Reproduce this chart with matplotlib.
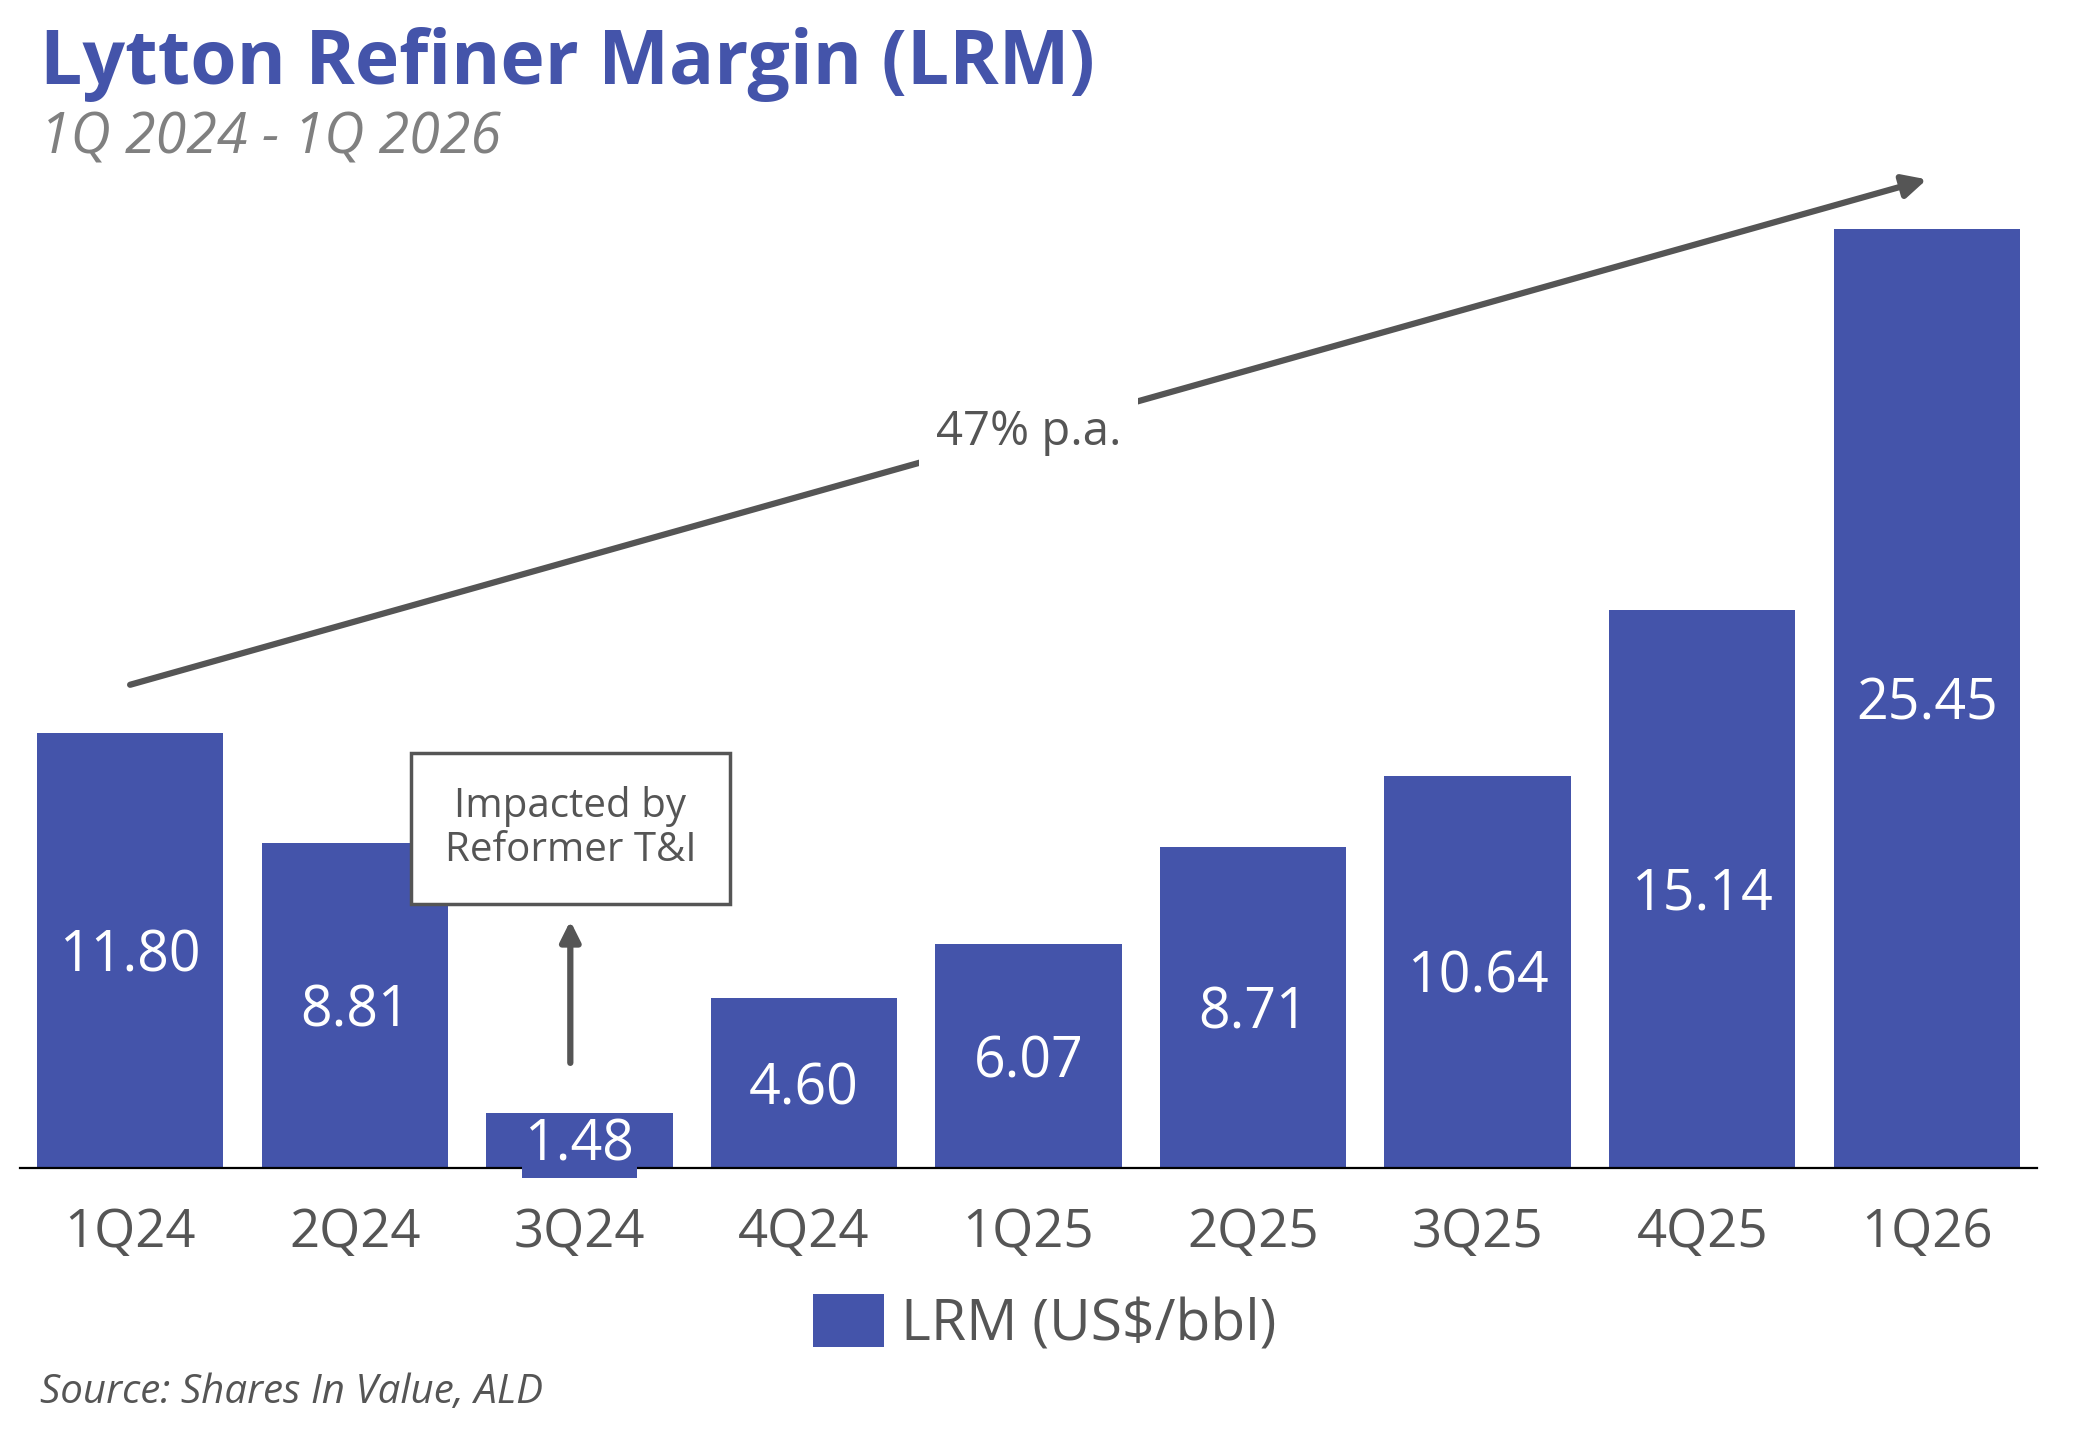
import matplotlib.pyplot as plt
from matplotlib.patches import Patch

quarters = ["1Q24", "2Q24", "3Q24", "4Q24", "1Q25", "2Q25", "3Q25", "4Q25", "1Q26"]
lrm = [11.80, 8.81, 1.48, 4.60, 6.07, 8.71, 10.64, 15.14, 25.45]
value_labels = ["11.80", "8.81", "1.48", "4.60", "6.07", "8.71", "10.64", "15.14", "25.45"]

# trend line (47% p.a.) start / end in data units
trend_x = [0.0, 8.0]
trend_y = [13.1, 26.8]

BLUE = "#4454AA"
GREY = "#555555"
FONT = "Open Sans"

plt.rcParams['font.family'] = [FONT, 'DejaVu Sans']

fig = plt.figure(figsize=(20.9, 14.3), dpi=100)
ax = fig.add_axes([0.0096, 0.1832, 0.965, 0.712])

x = list(range(len(quarters)))
ax.bar(x, lrm, width=0.83, color=BLUE, zorder=2)

# value labels sit in the middle of each bar
for i, (v, lab) in enumerate(zip(lrm, value_labels)):
    if v < 3:
        ax.text(i, v / 2 - 0.15, lab, ha='center', va='center', color='white', fontsize=40,
                zorder=4, bbox=dict(facecolor=BLUE, edgecolor='none', pad=2))
    else:
        ax.text(i, v / 2 - 0.18, lab, ha='center', va='center', color='white', fontsize=40,
                zorder=4)

ax.set_xlim(-0.49, 8.49)
ax.set_ylim(0, 27.6)
ax.set_xticks(x)
ax.set_xticklabels(quarters, fontsize=38, color=GREY)
ax.tick_params(axis='x', length=0, pad=28)
ax.set_yticks([])
for s in ['top', 'right', 'left']:
    ax.spines[s].set_visible(False)
ax.spines['bottom'].set_linewidth(1.6)
ax.spines['bottom'].set_color('black')
ax.spines['bottom'].set_zorder(3)

# trend arrow
ax.annotate("", xy=(trend_x[1], trend_y[1]), xytext=(trend_x[0], trend_y[0]),
            arrowprops=dict(arrowstyle='-|>', color=GREY, lw=4.5, mutation_scale=35,
                            shrinkA=0, shrinkB=0), zorder=3)
mid_x = (trend_x[0] + trend_x[1]) / 2
mid_y = (trend_y[0] + trend_y[1]) / 2
ax.text(mid_x, mid_y, "47% p.a.", ha='center', va='center', fontsize=34, color=GREY,
        zorder=4, bbox=dict(facecolor='white', edgecolor='none', pad=12))

# 3Q24 note
ax.text(1.96, 9.2, "Impacted by\nReformer T&I", ha='center', va='center', fontsize=29,
        color=GREY, linespacing=1.1, zorder=5,
        bbox=dict(facecolor='white', edgecolor=GREY, linewidth=2.5, pad=24))
ax.annotate("", xy=(1.96, 6.7), xytext=(1.96, 2.85),
            arrowprops=dict(arrowstyle='-|>', color=GREY, lw=4.5, mutation_scale=30,
                            shrinkA=0, shrinkB=0), zorder=3)

fig.text(0.019, 0.955, "Lytton Refiner Margin (LRM)", fontsize=54, fontweight='bold',
         color=BLUE, ha='left', va='center')
fig.text(0.019, 0.903, "1Q 2024 - 1Q 2026", fontsize=40, style='italic',
         color='#808080', ha='left', va='center')
fig.text(0.019, 0.026, "Source: Shares In Value, ALD", fontsize=29, style='italic',
         color=GREY, ha='left', va='center')

fig.legend(handles=[Patch(facecolor=BLUE, label="LRM (US$/bbl)")], loc='center',
           bbox_to_anchor=(0.5, 0.074), frameon=False, fontsize=41, labelcolor=GREY,
           handlelength=1.25, handleheight=1.05, handletextpad=0.3)

fig.savefig("out.png", dpi=100)
